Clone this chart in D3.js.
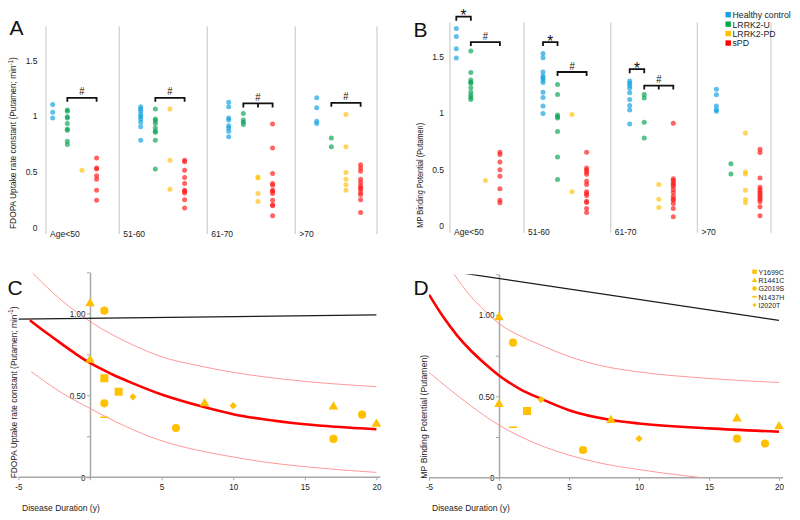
<!DOCTYPE html>
<html><head><meta charset="utf-8">
<script src="https://cdn.jsdelivr.net/npm/d3@7"></script>
<style>
body{margin:0;background:#fff}
svg{display:block}
text{font-family:'Liberation Sans',Arial,sans-serif;fill:#222}
</style>
</head><body>
<svg id="c" width="800" height="520"></svg>
<script>
// ---------- DATA ----------
const groups = ["Age<50", "51-60", "61-70", ">70"];
const cohorts = ["Healthy control", "LRRK2-U", "LRRK2-PD", "sPD"];
const dotTicks = [0, 0.5, 1, 1.5];

// Panel A: FDOPA uptake rate constant, per age group
const fdopaHC = [
  [1.10, 1.03, 0.98],
  [1.08, 1.06, 1.04, 1.01, 0.99, 0.97, 0.94, 0.90, 0.78],
  [1.12, 1.08, 0.98, 0.96, 0.91, 0.89, 0.86, 0.81],
  [1.16, 1.07, 0.95, 0.93]
];
const fdopaU = [
  [1.05, 1.04, 0.99, 0.98, 0.93, 0.88, 0.87, 0.77, 0.74],
  [1.06, 0.97, 0.955, 0.93, 0.89, 0.86, 0.85, 0.78, 0.52],
  [1.02, 0.96, 0.94, 0.92],
  [0.80, 0.72]
];
const fdopaPD = [
  [0.51],
  [1.06, 0.60, 0.34],
  [0.45, 0.44, 0.30, 0.23],
  [1.01, 0.72, 0.49, 0.43, 0.38, 0.33]
];
const fdopaSPD = [
  [0.62, 0.53, 0.52, 0.46, 0.43, 0.33, 0.24],
  [0.60, 0.585, 0.51, 0.445, 0.39, 0.33, 0.32, 0.305, 0.245, 0.17],
  [0.925, 0.71, 0.48, 0.39, 0.375, 0.33, 0.32, 0.30, 0.24, 0.20, 0.19, 0.10],
  [0.56, 0.53, 0.50, 0.43, 0.40, 0.37, 0.35, 0.34, 0.31, 0.29, 0.245, 0.13]
];
const fdopaHashLevel = [1.16, 1.16, 1.11, 1.115];

// Panel B: MP binding potential, per age group
const mpHC = [
  [1.745, 1.675, 1.566, 1.484],
  [1.525, 1.487, 1.36, 1.325, 1.31, 1.29, 1.267, 1.18, 1.135, 1.06, 0.994],
  [1.28, 1.26, 1.24, 1.217, 1.176, 1.117, 1.064, 1.023, 0.90],
  [1.208, 1.158, 1.06, 1.026, 1.012]
];
const mpU = [
  [1.545, 1.355, 1.29, 1.27, 1.26, 1.22, 1.18, 1.155, 1.135, 1.117],
  [1.25, 1.16, 0.98, 0.965, 0.953, 0.833, 0.607, 0.408],
  [1.16, 1.13, 0.915, 0.777],
  [0.548, 0.457]
];
const mpPD = [
  [0.40],
  [0.985, 0.30],
  [0.364, 0.235, 0.161],
  [0.82, 0.475, 0.457, 0.314, 0.232, 0.202]
];
const mpSPD = [
  [0.65, 0.63, 0.563, 0.496, 0.437, 0.326, 0.226, 0.202],
  [0.65, 0.51, 0.493, 0.475, 0.455, 0.393, 0.364, 0.30, 0.284, 0.267, 0.217, 0.205, 0.152, 0.117],
  [0.906, 0.416, 0.40, 0.38, 0.364, 0.35, 0.32, 0.293, 0.26, 0.237, 0.226, 0.196, 0.152, 0.08],
  [0.677, 0.648, 0.422, 0.34, 0.32, 0.30, 0.284, 0.267, 0.25, 0.232, 0.211, 0.167, 0.088]
];
const mpStarLevel = [1.85, 1.625, 1.385, null];
const mpHashLevel = [1.625, 1.36, 1.24, null];
const hashMidTick = [false, false, true, false];

// Panels C/D: LRRK2-PD carriers vs disease duration
const mutations = ["Y1699C", "R1441C", "G2019S", "N1437H", "I2020T"];
const durTicks = [-5, 0, 5, 10, 15, 20];
const valTicks = [0, 0.25, 0.5, 0.75, 1, 1.25];

const fdopaDur = [0, 1, 0, 1, 2, 3, 1, 1, 6, 8, 10, 17, 17, 19, 20];
const fdopaKi  = [1.065, 1.016, 0.72, 0.604, 0.522, 0.491, 0.451, 0.366, 0.30, 0.455, 0.437, 0.435, 0.234, 0.382, 0.33];
const fdopaMut = ["R1441C", "G2019S", "R1441C", "Y1699C", "Y1699C", "I2020T", "G2019S", "N1437H", "G2019S", "R1441C", "I2020T", "R1441C", "G2019S", "G2019S", "R1441C"];
const fdopaFit   = [[-4.2,0.958],[-3,0.878],[-2,0.815],[-1,0.753],[0,0.697],[1.5,0.63],[3,0.573],[5,0.505],[7.9,0.43],[10,0.385],[12,0.355],[15,0.323],[20,0.293]];
const fdopaUpper = [[-4,1.244],[-2,1.08],[0,0.95],[3,0.807],[5,0.735],[7.6,0.68],[10,0.64],[15,0.585],[20,0.553]];
const fdopaLower = [[-4.1,0.644],[-2.1,0.522],[0,0.42],[2.5,0.31],[4.85,0.227],[7.5,0.165],[10,0.124],[12,0.095],[15,0.065],[20,0.03]];
const fdopaRef   = [[-5,0.965],[20,0.99]];

const mpDur = [0, 1, 0, 3, 2, 1, 8, 6, 10, 17, 17, 19, 20];
const mpBP  = [0.99, 0.83, 0.456, 0.48, 0.41, 0.31, 0.358, 0.17, 0.24, 0.368, 0.24, 0.21, 0.32];
const mpMut = ["R1441C", "G2019S", "R1441C", "I2020T", "Y1699C", "N1437H", "R1441C", "G2019S", "I2020T", "R1441C", "G2019S", "G2019S", "R1441C"];
const mpFit   = [[-5,1.125],[-4,0.99],[-3,0.875],[-2,0.78],[-1,0.70],[0,0.628],[1.5,0.545],[3,0.485],[5,0.415],[8,0.355],[10,0.333],[15,0.303],[20,0.282]];
const mpUpper = [[-3.26,1.256],[-2,1.113],[-1,1.025],[0,0.947],[1.5,0.872],[3,0.814],[5,0.745],[7.2,0.69],[10,0.65],[15,0.61],[20,0.585]];
const mpLower = [[-5,0.647],[-2.07,0.446],[0,0.323],[2.5,0.215],[5,0.139],[7.5,0.085],[10,0.05],[12.5,0.02],[14.5,0]];
const mpRef   = [[-5,1.288],[20,0.967]];

// ---------- DRAW ----------
const SX = 0.9; // horizontal condensing of the sans font (Myriad-like look)
const svg = d3.select("#c");
const dotColor = d3.scaleOrdinal(cohorts, ["#12a0e0", "#0aa555", "#ffc20e", "#ff1a1a"]);
const legColor = d3.scaleOrdinal(cohorts, ["#1ba1e2", "#00a651", "#ffc000", "#ff0000"]);
const MUTC = "#ffc000";

function txt(parent, x, y, s, fs, anchor, rot) {
  return parent.append("text")
    .attr("transform", `translate(${x},${y})${rot ? " rotate(" + rot + ")" : ""} scale(${SX},1)`)
    .attr("font-size", fs).attr("text-anchor", anchor || "start").text(s);
}
function letter(t, x, y) {
  svg.append("text").attr("x", x).attr("y", y).text(t)
    .attr("font-size", 21).style("fill", "#111");
}
function supTitle(t) {
  t.append("tspan").text("FDOPA Uptake rate constant (Putamen; min");
  t.append("tspan").attr("dy", -3.5).attr("font-size", "0.7em").text("-1");
  t.append("tspan").attr("dy", 3.5).text(")");
}

function dotPanel(cfg) {
  const { y, xb, xi, axisX, rightX, series, tickRight, title, titleX, titleFs } = cfg;
  const g = svg.append("g");
  const seps = [axisX, ...groups.slice(1).map(k => xb(k)), rightX];
  g.selectAll("line.sep").data(seps).join("line")
    .attr("x1", d => d).attr("x2", d => d)
    .attr("y1", y(1.8)).attr("y2", y(0) + 7)
    .attr("stroke", "#d2d2d2").attr("stroke-width", 1.3);
  const ax = g.append("g").attr("transform", `translate(${tickRight},0)`)
    .call(d3.axisLeft(y).tickValues(dotTicks).tickSize(0).tickPadding(0).tickFormat(d3.format("")));
  ax.select(".domain").remove();
  ax.selectAll("text").attr("font-size", 9.5).style("font-family", null).attr("transform", `scale(${SX},1)`);
  groups.forEach((d, i) => txt(g, (i === 0 ? axisX : xb(d)) + 4, y(0) + 9.5, d, 9.5));
  series.forEach((ser, ci) => {
    const c = cohorts[ci];
    ser.forEach((vals, gi) => {
      g.selectAll(null).data(vals).join("circle")
        .attr("cx", xb(groups[gi]) + xi(c)).attr("cy", d => y(d)).attr("r", 2.5)
        .attr("fill", dotColor(c)).attr("fill-opacity", 0.68);
    });
  });
  const t = txt(g, titleX, y(0) + 2, "", titleFs, "start", -90);
  title(t);
  return g;
}

function bracket(g, x1, x2, yy, mid, label, fs, dy) {
  let d = `M${x1},${yy + 4}V${yy}H${x2}V${yy + 4}`;
  if (mid != null) d += `M${mid},${yy}V${yy + 4}`;
  g.append("path").attr("d", d).attr("fill", "none").attr("stroke", "#111").attr("stroke-width", 1.8);
  txt(g, (x1 + x2) / 2, yy + dy, label, fs, "middle").style("fill", "#111");
}

// Panel A
const yA = d3.scaleLinear([0, 1.8], [227, 26.6]);
const xbA = d3.scaleBand(groups, [31.3, 383.3]);
const xiA = d3.scalePoint(cohorts, [21.4, 65.3]);
const gA = dotPanel({
  y: yA, xb: xbA, xi: xiA, axisX: 46, rightX: 377,
  series: [fdopaHC, fdopaU, fdopaPD, fdopaSPD], tickRight: 37.5, titleX: 16, titleFs: 9.3,
  title: supTitle
});
groups.forEach((k, i) => {
  bracket(gA, xbA(k) + xiA("LRRK2-U"), xbA(k) + xiA("sPD"), yA(fdopaHashLevel[i]),
    hashMidTick[i] ? xbA(k) + xiA("LRRK2-PD") : null, "#", 10.5, -2.5);
});
letter("A", 9.5, 35);

// Panel B
const yB = d3.scaleLinear([0, 1.8], [225.7, 22.3]);
const xbB = d3.scaleBand(groups, [437.3, 784.1]);
const xiB = d3.scalePoint(cohorts, [19, 62.6]);
const gB = dotPanel({
  y: yB, xb: xbB, xi: xiB, axisX: 450, rightX: 771,
  series: [mpHC, mpU, mpPD, mpSPD], tickRight: 444, titleX: 423, titleFs: 8.2,
  title: t => t.text("MP Binding Potential (Putamen)")
});
groups.forEach((k, i) => {
  if (mpStarLevel[i] != null)
    bracket(gB, xbB(k) + xiB("Healthy control"), xbB(k) + xiB("LRRK2-U"), yB(mpStarLevel[i]), null, "*", 17, 4.5);
  if (mpHashLevel[i] != null)
    bracket(gB, xbB(k) + xiB("LRRK2-U"), xbB(k) + xiB("sPD"), yB(mpHashLevel[i]),
      hashMidTick[i] ? xbB(k) + xiB("LRRK2-PD") : null, "#", 10.5, -2.5);
});
letter("B", 413.5, 36.7);
// legend B
const legB = svg.append("g");
cohorts.forEach((c, i) => {
  const yy = 14.7 + i * 9.45;
  legB.append("rect").attr("x", 725.5).attr("y", yy - 2.7).attr("width", 5.4).attr("height", 5.4).attr("fill", legColor(c));
  txt(legB, 732.5, yy + 3.4, c, 9.7);
});

// Panels C / D
const symSize = { "Y1699C": 64, "R1441C": 40, "G2019S": 52, "I2020T": 26 };
function markerPath(m, s) {
  if (m === "Y1699C") return d3.symbol(d3.symbolSquare, symSize[m] * s * s)();
  if (m === "R1441C") return d3.symbol(d3.symbolTriangle, symSize[m] * s * s)();
  if (m === "G2019S") return d3.symbol(d3.symbolCircle, symSize[m] * s * s)();
  if (m === "I2020T") return d3.symbol(d3.symbolSquare, symSize[m] * s * s)();
  return `M${-4 * s},0H${4 * s}`;
}
function drawMarker(g, m, cx, cy, s) {
  const p = g.append("path").attr("d", markerPath(m, s));
  let tr = `translate(${cx},${cy})`;
  if (m === "I2020T") tr += " rotate(45)";
  if (m === "R1441C") tr = `translate(${cx},${cy + 0.8 * s})`;
  p.attr("transform", tr);
  if (m === "N1437H") p.attr("fill", "none").attr("stroke", MUTC).attr("stroke-width", 1.6);
  else p.attr("fill", MUTC);
}

function curvePanel(cfg) {
  const { x, y, dur, val, mut, fit, upper, lower, ref, showZero, id, title, titleX, titleFs, xTitleX } = cfg;
  const g = svg.append("g");
  const ay = g.append("g").attr("transform", `translate(${x(0)},0)`)
    .call(d3.axisLeft(y).tickValues(valTicks).tickSize(3).tickSizeOuter(0).tickPadding(2)
      .tickFormat(d => d === 0 ? "0" : (Math.abs(d % 0.5) < 1e-9 ? d.toFixed(2) : "")));
  ay.select(".domain").attr("stroke", "#a8a8a8").attr("stroke-width", 1.5);
  ay.selectAll(".tick line").attr("stroke", "#a8a8a8");
  ay.selectAll("text").attr("font-size", 9).style("font-family", null).attr("transform", `scale(${SX},1)`);
  const axx = g.append("g").attr("transform", `translate(0,${y(0)})`)
    .call(d3.axisBottom(x).tickValues(durTicks).tickSize(3).tickSizeOuter(0).tickPadding(3)
      .tickFormat(d => (d === 0 && !showZero) ? "" : d));
  axx.select(".domain").attr("stroke", "#a8a8a8").attr("stroke-width", 1.5)
    .attr("d", `M${x(-5)},0H${x(20) + 4}`);
  axx.selectAll(".tick line").attr("stroke", "#a8a8a8");
  axx.selectAll("text").attr("font-size", 9).style("font-family", null).attr("transform", `scale(${SX},1)`);
  txt(g, xTitleX, 510.5, "Disease Duration (y)", 9.5);
  const t = txt(g, titleX, y(0) + 1, "", titleFs, "start", -90);
  title(t);
  svg.append("clipPath").attr("id", id).append("rect")
    .attr("x", x(-5)).attr("y", y(1.25)).attr("width", x(20) - x(-5) + 4).attr("height", y(0) - y(1.25));
  const cg = g.append("g").attr("clip-path", `url(#${id})`);
  const line = d3.line().x(d => x(d[0])).y(d => y(d[1])).curve(d3.curveMonotoneX);
  [upper, lower].forEach(c => cg.append("path").attr("d", line(c)).attr("fill", "none")
    .attr("stroke", "#ff8c8c").attr("stroke-width", 0.9));
  cg.append("path").attr("d", line(ref)).attr("fill", "none").attr("stroke", "#1a1a1a").attr("stroke-width", 1.2);
  cg.append("path").attr("d", line(fit)).attr("fill", "none").attr("stroke", "#ff0000").attr("stroke-width", 2.6);
  dur.forEach((d, i) => drawMarker(g, mut[i], x(d), y(val[i]), 1));
  return g;
}

const xC = d3.scaleLinear([-5, 20], [18.4, 376.4]);
const yC = d3.scaleLinear([0, 1.25], [477.3, 272.3]);
curvePanel({
  x: xC, y: yC, dur: fdopaDur, val: fdopaKi, mut: fdopaMut, fit: fdopaFit, upper: fdopaUpper, lower: fdopaLower,
  ref: fdopaRef, showZero: false, id: "clipC", titleX: 16.5, titleFs: 9.3, xTitleX: 22,
  title: supTitle
});
letter("C", 7.5, 295);

const xD = d3.scaleLinear([-5, 20], [429, 779]);
const yD = d3.scaleLinear([0, 1.25], [477.7, 274.3]);
curvePanel({
  x: xD, y: yD, dur: mpDur, val: mpBP, mut: mpMut, fit: mpFit, upper: mpUpper, lower: mpLower,
  ref: mpRef, showZero: true, id: "clipD", titleX: 426.5, titleFs: 9.7, xTitleX: 432,
  title: t => t.text("MP Binding Potential (Putamen)")
});
letter("D", 413.5, 294.5);

// legend D
const legD = svg.append("g");
mutations.forEach((m, i) => {
  const yy = 271.7 + i * 8.35;
  drawMarker(legD, m, 754.5, yy, 0.55);
  txt(legD, 758.5, yy + 2.9, m, 7.8);
});
</script>
</body></html>
